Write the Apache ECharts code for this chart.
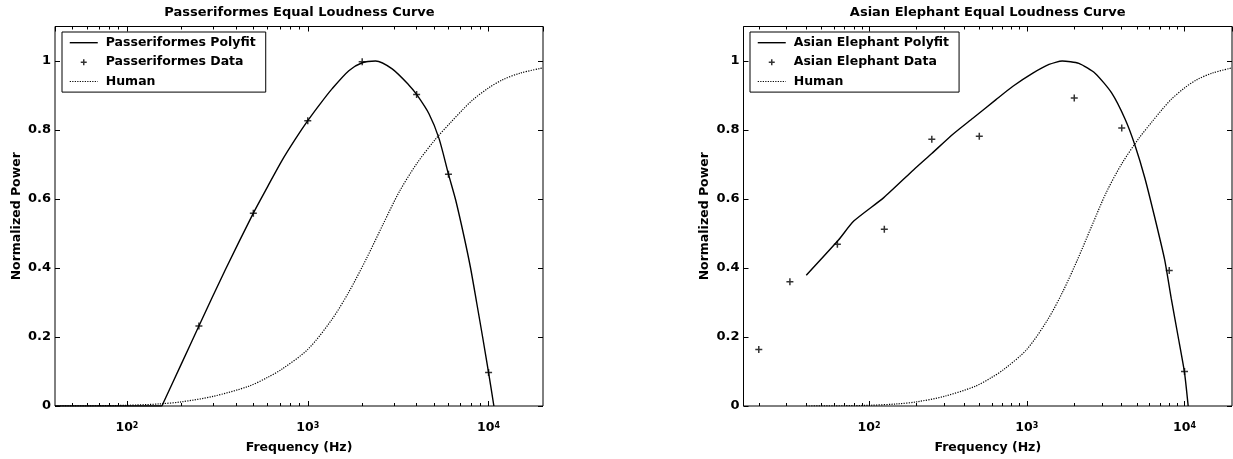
<!DOCTYPE html>
<html><head><meta charset="utf-8">
<script src="https://cdn.jsdelivr.net/npm/echarts@6/dist/echarts.min.js"></script>
<style>html,body{margin:0;padding:0;background:#fff}#c{width:1233px;height:459px}</style>
</head><body><div id="c"></div>
<script>
// ---------- data ----------
// '-' marks the break between the clipped zero run and the fitted polynomial
const passFitHz  = [40,156,156,156,200,250,350,500,600,721,850,1000,1180,1365,1687,2000,2371,2930,3630,4000,4680,5323,6000,6577,7310,7950,8590,9270,10000,10700];
const passFitVal = [0,0,'-',0,0.122,0.232,0.395,0.559,0.636,0.712,0.772,0.827,0.878,0.92,0.972,0.995,1.0,0.977,0.93,0.903,0.847,0.775,0.672,0.597,0.492,0.40,0.30,0.20,0.097,0];
const passDataHz  = [250,500,1000,2000,4000,6000,10000];
const passDataVal = [0.232,0.559,0.827,0.998,0.903,0.672,0.097];

const eleFitHz  = [40,64,80,124,192,250,343,455,638,813,1086,1384,1678,2139,2718,3458,4197,4851,5603,6471,7482,8243,9120,10000,10550];
const eleFitVal = [0.379,0.481,0.536,0.604,0.685,0.732,0.789,0.834,0.888,0.926,0.964,0.99,1.0,0.993,0.964,0.907,0.832,0.756,0.661,0.547,0.424,0.311,0.2,0.097,0];
const eleDataHz  = [20,31.5,63,125,250,500,2000,4000,8000,10000];
const eleDataVal = [0.164,0.36,0.469,0.512,0.773,0.782,0.893,0.806,0.393,0.1];

const humanHz  = [40,60,100,150,200,300,470,600,720,1000,1360,1690,2100,2600,3200,4000,5100,6200,7200,8200,10000,12000,15000,20000];
const humanVal = [0,0.0005,0.002,0.006,0.012,0.028,0.057,0.083,0.107,0.164,0.251,0.331,0.425,0.525,0.62,0.702,0.774,0.823,0.859,0.888,0.922,0.946,0.965,0.98];

const titles = ['Passeriformes Equal Loudness Curve','Asian Elephant Equal Loudness Curve'];
const legendNames = [
  ['Passeriformes Polyfit','Passeriformes Data','Human'],
  ['Asian Elephant Polyfit','Asian Elephant Data','Human']
];
const xName = 'Frequency (Hz)';
const yName = 'Normalized Power';
const xRanges = [[40,20000],[16,20000]];
const yTickInterval = 0.2;
const yMax = 1.1;
const minorTicksL = [50,60,70,80,90,200,300,400,500,600,700,800,900,2000,3000,4000,5000,6000,7000,8000,9000];
const minorTicksR = [20,30,40,50,60,70,80,90,200,300,400,500,600,700,800,900,2000,3000,4000,5000,6000,7000,8000,9000];

// ---------- layout / style ----------
const FONT = 'DejaVu Sans';
const grids = [
  {left:55, right:690, top:26.5, bottom:46.5},
  {left:743.5, right:1, top:26.5, bottom:46.5}
];
const titleCenters = [299.5, 987.75];
const legendPos = [[62,32],[750,32]];
const minorTicks = [minorTicksL, minorTicksR];
const PLUS = 'path://M-3.5,0L3.5,0M0,-3.5L0,3.5';
const PLUS_LEGEND = 'path://M-14,-7M14,7M-3,0L3,0M0,-3L0,3';
const LINE_LEGEND = 'path://M0,-7M28,7M0,0L28,0';
const DOT = [1.2,1.3];

function zip(a,b){ return a.map((v,i)=>[v,b[i]]); }
function fmt(v){
  const e = Math.log10(v); const r = Math.round(e);
  if (Math.abs(e-r) > 1e-6) return '';
  return '{b|10}{e|' + r + '}';
}
const txt = {fontFamily:FONT, fontWeight:'bold', color:'#000'};

const xAxis = [], yAxis = [], series = [], legend = [], title = [];
[0,1].forEach(g=>{
  const [mn,mx] = xRanges[g];
  const common = {gridIndex:g, splitLine:{show:false}, axisLine:{show:false,onZero:false}};
  xAxis.push(Object.assign({}, common, {
    type:'log', logBase:10, min:mn, max:mx, position:'bottom',
    axisTick:{show:true, inside:true, length:5, lineStyle:{color:'#000', width:1}},
    axisLabel:{show:true, margin:16, showMinLabel:false, showMaxLabel:false, formatter:fmt,
      rich:{
        b:Object.assign({fontSize:12.5, lineHeight:12, padding:[5,0,0,0], verticalAlign:'bottom'}, txt),
        e:Object.assign({fontSize:8, lineHeight:8, verticalAlign:'top'}, txt)
      }},
    name:xName, nameLocation:'middle', nameGap:35,
    nameTextStyle:Object.assign({fontSize:12.5}, txt)
  }));
  xAxis.push(Object.assign({}, common, {
    type:'log', logBase:10, min:mn, max:mx, position:'top',
    axisTick:{show:true, inside:true, length:5, lineStyle:{color:'#000', width:1}},
    axisLabel:{show:false}
  }));
  ['bottom','top'].forEach(pos=>{
    xAxis.push(Object.assign({}, common, {
      type:'value', min:Math.log10(mn), max:Math.log10(mx), position:pos,
      axisTick:{show:true, inside:true, length:3, lineStyle:{color:'#000', width:1},
        customValues: minorTicks[g].map(v=>Math.log10(v))},
      axisLabel:{show:false}
    }));
  });
  yAxis.push({
    gridIndex:g, type:'value', min:0, max:yMax, interval:yTickInterval, position:'left',
    axisLine:{show:false,onZero:false}, splitLine:{show:false},
    axisTick:{show:true, inside:true, length:5, lineStyle:{color:'#000', width:1}},
    axisLabel:Object.assign({margin:4, showMaxLabel:false, fontSize:13}, txt),
    name:yName, nameLocation:'middle', nameRotate:90, nameGap:32,
    nameTextStyle:Object.assign({fontSize:12.5}, txt)
  });
  yAxis.push({
    gridIndex:g, type:'value', min:0, max:yMax, interval:yTickInterval, position:'right',
    axisLine:{show:false,onZero:false}, splitLine:{show:false},
    axisTick:{show:true, inside:true, length:5, lineStyle:{color:'#000', width:1}},
    axisLabel:{show:false}
  });
  title.push({
    text:titles[g], left:titleCenters[g], top:6, textAlign:'center', padding:0,
    textStyle:Object.assign({fontSize:13}, txt)
  });
  legend.push({
    data:[
      {name:legendNames[g][0], icon:LINE_LEGEND, itemStyle:{color:'#000', borderColor:'#000', borderWidth:1.4, borderType:'solid'}},
      {name:legendNames[g][1], icon:PLUS_LEGEND, itemStyle:{color:'#000', borderColor:'#000', borderWidth:1.5}},
      {name:legendNames[g][2], icon:LINE_LEGEND, itemStyle:{color:'#000', borderColor:'#000', borderWidth:1.2, borderType:DOT}}
    ],
    left:legendPos[g][0], top:legendPos[g][1], orient:'vertical',
    itemWidth:28, itemHeight:14, itemGap:4, padding:[3,10,3,7],
    backgroundColor:'#fff', borderColor:'#000', borderWidth:1, borderRadius:0,
    symbolKeepAspect:false, selectedMode:false,
    textStyle:Object.assign({fontSize:12.5, padding:[0,0,0,3]}, txt)
  });
});

const xi = g => g*4, yi = g => g*2;
series.push(
  {type:'line', name:legendNames[0][0], xAxisIndex:xi(0), yAxisIndex:yi(0), data:zip(passFitHz,passFitVal),
   symbol:'none', smooth:0.25, connectNulls:false, lineStyle:{color:'#000', width:1.4}, itemStyle:{color:'#000'}, z:4},
  {type:'scatter', name:legendNames[0][1], xAxisIndex:xi(0), yAxisIndex:yi(0), data:zip(passDataHz,passDataVal),
   symbol:PLUS, symbolSize:7, itemStyle:{color:'#000', borderColor:'#000', borderWidth:1.5}, z:5},
  {type:'line', name:'Human', xAxisIndex:xi(0), yAxisIndex:yi(0), data:zip(humanHz,humanVal),
   symbol:'none', smooth:0.3, lineStyle:{color:'#000', width:1.2, type:DOT}, itemStyle:{color:'#000'}, z:3},
  {type:'line', name:legendNames[1][0], xAxisIndex:xi(1), yAxisIndex:yi(1), data:zip(eleFitHz,eleFitVal),
   symbol:'none', smooth:0.2, lineStyle:{color:'#000', width:1.4}, itemStyle:{color:'#000'}, z:4},
  {type:'scatter', name:legendNames[1][1], xAxisIndex:xi(1), yAxisIndex:yi(1), data:zip(eleDataHz,eleDataVal),
   symbol:PLUS, symbolSize:7, itemStyle:{color:'#000', borderColor:'#000', borderWidth:1.5}, z:5},
  {type:'line', name:'Human', xAxisIndex:xi(1), yAxisIndex:yi(1), data:zip(humanHz,humanVal),
   symbol:'none', smooth:0.3, lineStyle:{color:'#000', width:1.2, type:DOT}, itemStyle:{color:'#000'}, z:3}
);

const chart = echarts.init(document.getElementById('c'), null, {renderer:'canvas'});
chart.setOption({
  animation:false,
  backgroundColor:'#fff',
  title:title,
  legend:legend,
  grid:grids.map(gr=>Object.assign({show:true, borderColor:'#000', borderWidth:1, backgroundColor:'transparent'}, gr)),
  xAxis:xAxis, yAxis:yAxis, series:series
});
</script></body></html>
